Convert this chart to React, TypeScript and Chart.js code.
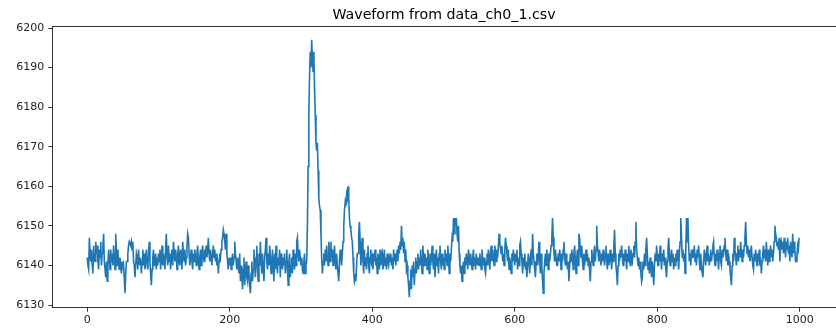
import React, { useEffect, useRef } from "react";
import { Chart, registerables } from "chart.js";

Chart.register(...registerables);

const TITLE = "Waveform from data_ch0_1.csv";
const X_TICKS = [0, 200, 400, 600, 800, 1000];
const Y_TICKS = [6130, 6140, 6150, 6160, 6170, 6180, 6190, 6200];

// sample values, index 0..999
const WAVEFORM: number[] = [
  6142,6140,6139,6147,6143,6141,6144,6140,6138,6145,6142,6141,6146,6143,6145,6141,6139,6144,6142,6146,6140,6143,6145,6148,6141,
  6139,6137,6141,6136,6140,6144,6142,6139,6144,6141,6143,6140,6145,6142,6139,6148,6143,6140,6144,6141,6139,6142,6140,6138,6141,
  6139,6140,6137,6133,6138,6141,6141,6143,6145,6146,6146,6145,6146,6144,6146,6141,6140,6137,6140,6143,6142,6139,6144,6141,6140,
  6142,6138,6141,6144,6140,6143,6139,6142,6144,6140,6139,6143,6146,6141,6138,6135,6139,6142,6144,6140,6141,6143,6139,6142,6140,
  6143,6141,6144,6139,6142,6145,6140,6143,6141,6139,6144,6148,6142,6140,6145,6141,6143,6139,6142,6144,6140,6146,6143,6141,6144,
  6142,6139,6143,6145,6141,6140,6144,6142,6139,6146,6143,6141,6144,6140,6142,6145,6148,6147,6143,6140,6142,6144,6141,6139,6143,
  6141,6144,6142,6140,6143,6145,6141,6139,6142,6144,6140,6143,6145,6142,6141,6144,6143,6145,6142,6144,6147,6143,6141,6144,6142,
  6140,6143,6145,6142,6144,6141,6143,6140,6142,6138,6141,6143,6142,6144,6146,6147,6149,6148,6146,6144,6148,6143,6141,6139,6142,
  6140,6142,6139,6141,6143,6140,6142,6146,6143,6141,6139,6142,6140,6138,6143,6136,6140,6137,6134,6139,6142,6135,6138,6141,6137,
  6136,6140,6138,6135,6133,6138,6141,6136,6139,6144,6140,6137,6142,6145,6139,6136,6143,6140,6146,6141,6138,6143,6139,6136,6142,
  6144,6147,6141,6139,6143,6140,6145,6142,6138,6141,6144,6140,6136,6143,6139,6145,6141,6138,6142,6140,6144,6137,6143,6141,6139,
  6142,6140,6143,6138,6141,6144,6139,6135,6141,6143,6137,6140,6142,6138,6144,6141,6139,6143,6140,6146,6147,6143,6141,6144,6142,
  6140,6142,6139,6138,6141,6143,6138,6140,6141,6150,6165,6178,6188,6194,6190,6197,6192,6189,6194,6185,6178,6171,6169,6171,6164,
  6157,6155,6154,6148,6142,6138,6141,6143,6140,6144,6141,6145,6142,6140,6146,6143,6141,6146,6142,6144,6140,6143,6145,6141,6139,
  6143,6140,6138,6136,6141,6144,6142,6140,6143,6146,6150,6154,6156,6155,6158,6157,6160,6157,6152,6150,6149,6147,6146,6142,6138,
  6136,6137,6136,6140,6143,6143,6148,6151,6146,6140,6143,6147,6141,6138,6144,6140,6142,6139,6143,6145,6140,6138,6142,6144,6141,
  6142,6139,6143,6141,6144,6140,6142,6138,6143,6141,6139,6144,6140,6142,6143,6139,6141,6144,6140,6142,6139,6143,6141,6140,6142,
  6141,6143,6140,6142,6139,6144,6141,6143,6140,6142,6144,6141,6145,6143,6146,6144,6150,6145,6147,6143,6146,6141,6144,6139,6140,
  6137,6135,6132,6136,6139,6134,6140,6137,6141,6135,6139,6142,6138,6141,6143,6139,6142,6140,6144,6141,6138,6145,6142,6140,6143,
  6140,6142,6139,6144,6141,6138,6143,6140,6142,6145,6141,6139,6143,6137,6141,6144,6140,6142,6138,6143,6145,6141,6139,6143,6140,
  6142,6139,6144,6141,6143,6140,6145,6142,6138,6143,6141,6144,6147,6146,6152,6148,6152,6150,6152,6148,6146,6150,6143,6140,6138,
  6140,6136,6139,6141,6138,6142,6140,6143,6141,6139,6144,6142,6140,6143,6141,6139,6142,6144,6140,6142,6139,6143,6141,6140,6142,
  6140,6143,6141,6139,6144,6142,6140,6142,6139,6138,6141,6143,6140,6144,6142,6139,6143,6145,6141,6144,6142,6140,6145,6143,6141,
  6144,6142,6145,6148,6146,6144,6143,6145,6141,6143,6140,6144,6147,6145,6143,6141,6144,6139,6142,6140,6138,6143,6141,6144,6142,
  6140,6143,6141,6144,6139,6142,6140,6145,6146,6143,6141,6138,6142,6140,6143,6139,6141,6137,6140,6143,6141,6138,6142,6144,6140,
  6148,6143,6141,6139,6137,6141,6143,6140,6142,6146,6141,6138,6143,6140,6136,6133,6138,6141,6143,6140,6144,6141,6139,6143,6141,
  6143,6145,6147,6152,6147,6143,6141,6144,6142,6140,6140,6143,6141,6144,6142,6139,6143,6141,6144,6146,6142,6140,6143,6141,6139,
  6141,6136,6140,6143,6141,6144,6142,6139,6143,6145,6141,6138,6142,6144,6140,6148,6147,6144,6142,6145,6141,6139,6143,6140,6142,
  6144,6141,6143,6140,6142,6139,6136,6141,6144,6142,6140,6143,6145,6141,6144,6150,6145,6143,6141,6144,6142,6140,6143,6141,6144,
  6142,6140,6143,6145,6141,6139,6143,6140,6142,6144,6141,6139,6143,6141,6145,6149,6143,6140,6138,6135,6140,6143,6141,6144,6142,
  6145,6142,6140,6143,6141,6144,6142,6139,6143,6141,6145,6142,6140,6144,6142,6141,6143,6145,6142,6146,6151,6144,6142,6140,6142,
  6139,6141,6138,6136,6137,6141,6139,6143,6140,6144,6147,6143,6139,6141,6138,6142,6140,6137,6141,6139,6135,6140,6143,6141,6145,
  6142,6140,6143,6141,6145,6142,6139,6143,6141,6144,6140,6142,6139,6137,6141,6144,6147,6143,6140,6142,6144,6141,6143,6139,6142,
  6140,6143,6141,6144,6142,6139,6143,6146,6152,6147,6142,6144,6141,6143,6138,6144,6152,6146,6152,6145,6141,6143,6140,6144,6142,
  6144,6142,6145,6141,6143,6140,6144,6142,6145,6141,6139,6143,6140,6138,6137,6141,6144,6142,6140,6143,6145,6141,6143,6140,6142,
  6144,6141,6143,6145,6146,6142,6140,6143,6141,6144,6142,6139,6143,6145,6141,6140,6144,6142,6143,6145,6147,6143,6141,6144,6140,
  6143,6141,6139,6137,6135,6140,6143,6141,6147,6144,6142,6140,6143,6145,6141,6144,6142,6146,6143,6141,6144,6142,6145,6147,6151,
  6146,6143,6145,6142,6144,6141,6143,6145,6142,6140,6139,6143,6141,6144,6142,6140,6143,6141,6144,6140,6142,6138,6141,6143,6145,
  6142,6144,6141,6146,6143,6140,6144,6141,6143,6145,6142,6144,6141,6143,6146,6150,6148,6147,6145,6146,6144,6147,6141,6145,6146,
  6144,6146,6143,6147,6145,6142,6146,6144,6147,6143,6145,6141,6146,6144,6142,6148,6143,6146,6144,6141,6141,6143,6145,6144,6147,
];

const FONT = '"DejaVu Sans", sans-serif';
const CANVAS_W = 840;
const CANVAS_H = 330;

const framePlugin = {
  id: "frameAndTitle",
  afterDraw(chart: any) {
    const { ctx, chartArea } = chart;
    ctx.save();
    ctx.strokeStyle = "#000";
    ctx.lineWidth = 0.8;
    ctx.beginPath();
    ctx.moveTo(chartArea.left, chartArea.top);
    ctx.lineTo(chartArea.right, chartArea.top);
    ctx.stroke();
    ctx.fillStyle = "#000";
    ctx.font = `14.2px ${FONT}`;
    ctx.textAlign = "center";
    ctx.textBaseline = "alphabetic";
    ctx.fillText(TITLE, 444, 19);
    ctx.restore();
  },
};

export default function App() {
  const ref = useRef<HTMLCanvasElement | null>(null);

  useEffect(() => {
    document.body.style.margin = "0";
    document.body.style.overflow = "hidden";
    const canvas = ref.current;
    if (!canvas) return;
    const points = WAVEFORM.map((v, i) => ({ x: i, y: v }));
    const chart = new Chart(canvas, {
      type: "line",
      data: {
        datasets: [
          {
            data: points,
            borderColor: "#1f77b4",
            borderWidth: 1.6,
            pointRadius: 0,
            tension: 0,
            fill: false,
          },
        ],
      },
      options: {
        responsive: false,
        animation: false,
        layout: { padding: { top: 26.5, left: 0, right: 0, bottom: 0 } },
        plugins: {
          legend: { display: false },
          title: { display: false },
          tooltip: { enabled: false },
        },
        scales: {
          x: {
            type: "linear",
            min: -49,
            max: 1056.4,
            afterFit(scale: any) {
              scale.height = 22.3;
            },
            afterBuildTicks(scale: any) {
              scale.ticks = X_TICKS.map((v) => ({ value: v }));
            },
            grid: {
              drawOnChartArea: false,
              drawTicks: true,
              tickLength: 4,
              tickColor: "#000",
              tickWidth: 0.8,
            },
            border: { display: true, color: "#000", width: 0.8 },
            ticks: {
              color: "#222",
              font: { family: FONT, size: 11 },
              padding: 2,
              maxRotation: 0,
              autoSkip: false,
              callback: (v: any) => String(v),
            },
          },
          y: {
            type: "linear",
            min: 6129.32,
            max: 6200.38,
            afterFit(scale: any) {
              scale.width = 52.3;
            },
            afterBuildTicks(scale: any) {
              scale.ticks = Y_TICKS.map((v) => ({ value: v }));
            },
            grid: {
              drawOnChartArea: false,
              drawTicks: true,
              tickLength: 4,
              tickColor: "#000",
              tickWidth: 0.8,
            },
            border: { display: true, color: "#000", width: 0.8 },
            ticks: {
              color: "#222",
              font: { family: FONT, size: 11 },
              padding: 4,
              autoSkip: false,
              callback: (v: any) => String(v),
            },
          },
        },
      },
      plugins: [framePlugin],
    });
    return () => chart.destroy();
  }, []);

  return (
    <canvas
      ref={ref}
      width={CANVAS_W}
      height={CANVAS_H}
      style={{ display: "block", width: CANVAS_W, height: CANVAS_H }}
    />
  );
}
